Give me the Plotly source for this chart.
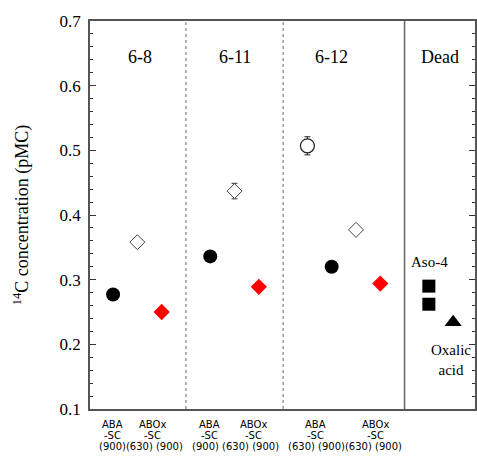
import plotly.graph_objects as go

# ---------------- data ----------------
samples = ["6-8", "6-11", "6-12"]
aba900 = [0.277, 0.336, 0.320]
abox630 = [0.358, 0.437, 0.377]
abox630_err = [0.007, 0.012, 0.006]
abox900 = [0.250, 0.289, 0.294]
aba630_612 = [0.507]
aba630_612_err = [0.014]
aso4 = [0.290, 0.262]
oxalic = [0.234]

y_ticks = [0.1, 0.2, 0.3, 0.4, 0.5, 0.6, 0.7]
method_labels = ["ABA", "ABOx"]
temp_lines = ["(900)(630) (900)", "(900) (630) (900)", "(630) (900)(630) (900)"]

# ---------------- layout slots (positions) ----------------
aba900_x = [0, 4, 9]
abox630_x = [1, 5, 10]
abox900_x = [2, 6, 11]
aba630_x = [8]
aso4_x = [13, 13]
oxalic_x = [14]

SERIF = "Liberation Serif"
SANS = "DejaVu Sans"

fig = go.Figure()

fig.add_trace(go.Scatter(
    x=abox630_x, y=abox630, mode="markers",
    error_y=dict(type="data", array=abox630_err, color="#333", thickness=1, width=3),
    marker=dict(symbol="diamond", size=11.5, color="white", line=dict(color="#444", width=1)),
    showlegend=False))
fig.add_trace(go.Scatter(
    x=aba630_x, y=aba630_612, mode="markers",
    error_y=dict(type="data", array=aba630_612_err, color="#222", thickness=1, width=3),
    marker=dict(symbol="circle", size=14, color="white", line=dict(color="#222", width=1.2)),
    showlegend=False))
fig.add_trace(go.Scatter(
    x=aba900_x, y=aba900, mode="markers",
    marker=dict(symbol="circle", size=14, color="black"),
    showlegend=False))
fig.add_trace(go.Scatter(
    x=abox900_x, y=abox900, mode="markers",
    marker=dict(symbol="diamond", size=12.5, color="#ff0000"),
    showlegend=False))
fig.add_trace(go.Scatter(
    x=aso4_x, y=aso4, mode="markers",
    marker=dict(symbol="square", size=13, color="black"),
    showlegend=False))
fig.add_trace(go.Scatter(
    x=oxalic_x, y=oxalic, mode="markers",
    marker=dict(symbol="triangle-up", size=15, color="black"),
    showlegend=False))

# separators
for xv in [3, 7]:
    fig.add_shape(type="line", x0=xv, x1=xv, y0=0, y1=1, xref="x", yref="paper",
                  line=dict(color="#666", width=1, dash="dot"))
fig.add_shape(type="line", x0=12, x1=12, y0=0, y1=1, xref="x", yref="paper",
              line=dict(color="#666", width=1.5))

annotations = []
# group headings
for txt, xv in zip(samples + ["Dead"], [1.1, 5.0, 8.98, 13.44]):
    annotations.append(dict(x=xv, y=0.644, xref="x", yref="y", text=txt, showarrow=False,
                            font=dict(family=SERIF, size=18, color="black")))
annotations.append(dict(x=13.03, y=0.327, xref="x", yref="y", text="Aso-4", showarrow=False,
                        font=dict(family=SERIF, size=15, color="black")))
annotations.append(dict(x=13.9, y=0.176, xref="x", yref="y", text="Oxalic<br>acid", showarrow=False,
                        font=dict(family=SERIF, size=15, color="black")))

# x labels (method names, -SC, temperatures)
lab_font = dict(family=SANS, size=10, color="black")
y1, y2, y3 = -0.0387, -0.0683, -0.0979
method_pos = [(-0.04, 1.64), (3.98, 5.78), (8.32, 10.82)]
for aba_x, abox_x in method_pos:
    for name, xv in zip(method_labels, [aba_x, abox_x]):
        annotations.append(dict(x=xv, y=y1, xref="x", yref="paper", yanchor="middle", text=name,
                                showarrow=False, font=lab_font))
        annotations.append(dict(x=xv, y=y2, xref="x", yref="paper", yanchor="middle", text="-SC",
                                showarrow=False, font=lab_font))
for t, xv in zip(temp_lines, [1.15, 5.04, 9.55]):
    annotations.append(dict(x=xv, y=y3, xref="x", yref="paper", yanchor="middle", text=t,
                            showarrow=False, font=lab_font))

fig.update_layout(
    width=477, height=457,
    margin=dict(l=90, r=0, t=21, b=48),
    plot_bgcolor="white", paper_bgcolor="white",
    annotations=annotations,
    xaxis=dict(range=[-0.95, 14.9], showgrid=False, zeroline=False, showticklabels=False,
               ticks="", showline=True, mirror=True, linecolor="#555", linewidth=1.5),
    yaxis=dict(range=[0.1, 0.7], tickvals=y_ticks, tickformat=".1f", showgrid=False, zeroline=False,
               ticks="inside", ticklen=6, tickcolor="#333", tickwidth=1, ticklabelstandoff=4,
               minor=dict(dtick=0.02, ticks="inside", ticklen=3, tickcolor="#333", tickwidth=1),
               showline=True, mirror="allticks", linecolor="#555", linewidth=1.5,
               tickfont=dict(family=SERIF, size=17, color="black"),
               title=dict(text="<sup>14</sup>C concentration (pMC)", standoff=26,
                          font=dict(family=SERIF, size=18, color="black"))),
)

fig.write_html("out.html", config={"displayModeBar": False},
               post_script="document.body.style.margin='0';document.body.style.overflow='hidden';")
